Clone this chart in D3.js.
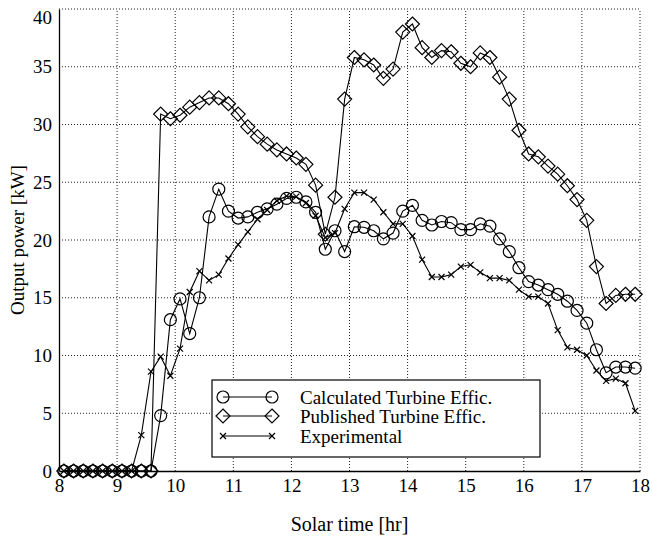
<!DOCTYPE html>
<html>
<head>
<meta charset="utf-8">
<script src="https://cdn.jsdelivr.net/npm/d3@7"></script>
<style>
  body { margin: 0; background: #fff; }
  svg text { font-family: "Liberation Serif", "DejaVu Serif", serif; fill: #000; }
</style>
</head>
<body>
<div id="chart"></div>
<script>
// solar time of each sample (every 10 min)
const times = ['8:05', '8:15', '8:25', '8:35', '8:45', '8:55', '9:05', '9:15', '9:25', '9:35',
  '9:45', '9:55', '10:05', '10:15', '10:25', '10:35', '10:45', '10:55', '11:05', '11:15',
  '11:25', '11:35', '11:45', '11:55', '12:05', '12:15', '12:25', '12:35', '12:45', '12:55',
  '13:05', '13:15', '13:25', '13:35', '13:45', '13:55', '14:05', '14:15', '14:25', '14:35',
  '14:45', '14:55', '15:05', '15:15', '15:25', '15:35', '15:45', '15:55', '16:05', '16:15',
  '16:25', '16:35', '16:45', '16:55', '17:05', '17:15', '17:25', '17:35', '17:45', '17:55'];

// output power [kW]
const calculated = [0, 0, 0, 0, 0, 0, 0, 0, 0, 0,
  4.8, 13.1, 14.9, 11.9, 15.0, 22.0, 24.4, 22.5, 21.9, 22.0,
  22.4, 22.7, 23.1, 23.6, 23.7, 23.3, 22.4, 19.2, 20.8, 19.0,
  21.15, 21.1, 20.8, 20.1, 20.6, 22.5, 23.0, 21.7, 21.3, 21.6,
  21.5, 20.9, 20.9, 21.4, 21.2, 20.1, 19.0, 17.6, 16.4, 16.1,
  15.7, 15.3, 14.7, 13.9, 12.8, 10.5, 8.5, 9.0, 9.0, 8.9];

const published = [0, 0, 0, 0, 0, 0, 0, 0, 0, 0,
  30.9, 30.5, 30.8, 31.5, 31.9, 32.3, 32.3, 31.8, 30.9, 29.8,
  28.95, 28.3, 27.8, 27.45, 27.1, 26.55, 24.75, 20.5, 23.7, 32.2,
  35.8, 35.6, 35.15, 34.0, 34.8, 38.0, 38.7, 36.65, 35.8, 36.4,
  36.3, 35.3, 35.0, 36.2, 35.8, 34.1, 32.2, 29.5, 27.45, 27.2,
  26.4, 25.7, 24.7, 23.5, 21.7, 17.7, 14.5, 15.2, 15.3, 15.3];

const experimental = [0, 0, 0, 0, 0, 0, 0, 0, 3.1, 8.6,
  9.9, 8.25, 10.6, 15.5, 17.3, 16.5, 17.0, 18.4, 19.6, 20.7,
  21.8, 22.6, 23.4, 23.8, 23.75, 23.2, 22.1, 20.2, 20.6, 22.7,
  24.1, 24.1, 23.5, 22.4, 21.4, 21.4, 20.35, 18.3, 16.8, 16.8,
  17.0, 17.7, 17.85, 17.2, 16.7, 16.7, 16.5, 15.7, 15.1, 15.1,
  14.5, 12.2, 10.7, 10.5, 10.0, 8.7, 7.8, 8.0, 7.6, 5.2];

const xTicks = [8, 9, 10, 11, 12, 13, 14, 15, 16, 17, 18];
const yTicks = [0, 5, 10, 15, 20, 25, 30, 35, 40];

const seriesNames = ['Calculated Turbine Effic.', 'Published Turbine Effic.', 'Experimental'];
const seriesMarkers = ['circle', 'diamond', 'cross'];

function toHours(s) {
  const p = s.split(':');
  return +p[0] + (+p[1]) / 60;
}

const width = 653;
const height = 541;
const margin = { left: 59, top: 9, right: 13, bottom: 70 };

const svg = d3.select('#chart').append('svg')
  .attr('width', width)
  .attr('height', height);

const x = d3.scaleLinear().domain([8, 18]).range([margin.left, width - margin.right]);
const y = d3.scaleLinear().domain([0, 40]).range([height - margin.bottom, margin.top]);

// GRID
const grid = svg.append('g')
  .attr('stroke', '#222')
  .attr('stroke-width', 1)
  .attr('stroke-dasharray', '1,2');
grid.selectAll('.vgrid')
  .data(xTicks.slice(1)).enter()
  .append('line')
  .attr('x1', d => x(d)).attr('x2', d => x(d))
  .attr('y1', y(0)).attr('y2', y(40));
grid.selectAll('.hgrid')
  .data(yTicks.slice(1)).enter()
  .append('line')
  .attr('x1', x(8)).attr('x2', x(18))
  .attr('y1', d => y(d)).attr('y2', d => y(d));

// AXES
const xAxis = svg.append('g')
  .attr('transform', `translate(0, ${y(0)})`)
  .call(d3.axisBottom(x).tickValues(xTicks).tickSize(0).tickPadding(8));
const yAxis = svg.append('g')
  .attr('transform', `translate(${x(8)}, 0)`)
  .call(d3.axisLeft(y).tickValues(yTicks).tickSize(0).tickPadding(7));
[xAxis, yAxis].forEach(a => {
  a.select('.domain').attr('stroke', '#000').attr('stroke-width', 1.3);
  a.selectAll('text')
    .style('font-family', '"Liberation Serif", serif')
    .style('font-size', '19px')
    .attr('fill', '#000');
});
// top label sits a little lower so it stays inside the page
yAxis.selectAll('.tick text').filter(d => d === 40).attr('dy', '0.75em');

svg.append('text')
  .attr('x', x(13))
  .attr('y', 531)
  .attr('text-anchor', 'middle')
  .style('font-size', '20px')
  .text('Solar time [hr]');

svg.append('text')
  .attr('transform', `translate(24, ${y(20)}) rotate(-90)`)
  .attr('text-anchor', 'middle')
  .style('font-size', '19px')
  .text('Output power [kW]');

// MARKERS
function drawMarker(g, type, cx, cy) {
  if (type === 'circle') {
    g.append('circle').attr('cx', cx).attr('cy', cy).attr('r', 6)
      .attr('fill', 'none').attr('stroke', '#000').attr('stroke-width', 1.2);
  } else if (type === 'diamond') {
    const s = 7;
    g.append('path')
      .attr('d', `M${cx},${cy - s}L${cx + s},${cy}L${cx},${cy + s}L${cx - s},${cy}Z`)
      .attr('fill', 'none').attr('stroke', '#000').attr('stroke-width', 1.2);
  } else {
    const s = 3;
    g.append('path')
      .attr('d', `M${cx - s},${cy - s}L${cx + s},${cy + s}M${cx - s},${cy + s}L${cx + s},${cy - s}`)
      .attr('fill', 'none').attr('stroke', '#000').attr('stroke-width', 1.2);
  }
}

const allSeries = [calculated, published, experimental];
const line = d3.line()
  .x(d => x(d[0]))
  .y(d => y(d[1]));

const plot = svg.append('g');
allSeries.forEach((vals, i) => {
  const pts = vals.map((v, k) => [toHours(times[k]), v]);
  plot.append('path')
    .datum(pts)
    .attr('d', line)
    .attr('fill', 'none')
    .attr('stroke', '#000')
    .attr('stroke-width', 1.1);
  const mg = plot.append('g');
  pts.forEach(p => drawMarker(mg, seriesMarkers[i], x(p[0]), y(p[1])));
});

// LEGEND
const legend = svg.append('g');
legend.append('rect')
  .attr('x', 212).attr('y', 380)
  .attr('width', 328).attr('height', 77)
  .attr('fill', '#fff')
  .attr('stroke', '#000')
  .attr('stroke-width', 1.2);
const rowY = [397, 416, 436];
seriesNames.forEach((name, i) => {
  legend.append('line')
    .attr('x1', 223).attr('x2', 272)
    .attr('y1', rowY[i]).attr('y2', rowY[i])
    .attr('stroke', '#000').attr('stroke-width', 1.1);
  drawMarker(legend, seriesMarkers[i], 223, rowY[i]);
  drawMarker(legend, seriesMarkers[i], 272, rowY[i]);
  legend.append('text')
    .attr('x', 300)
    .attr('y', rowY[i])
    .attr('dy', '0.35em')
    .style('font-size', '19px')
    .text(name);
});
</script>
</body>
</html>
